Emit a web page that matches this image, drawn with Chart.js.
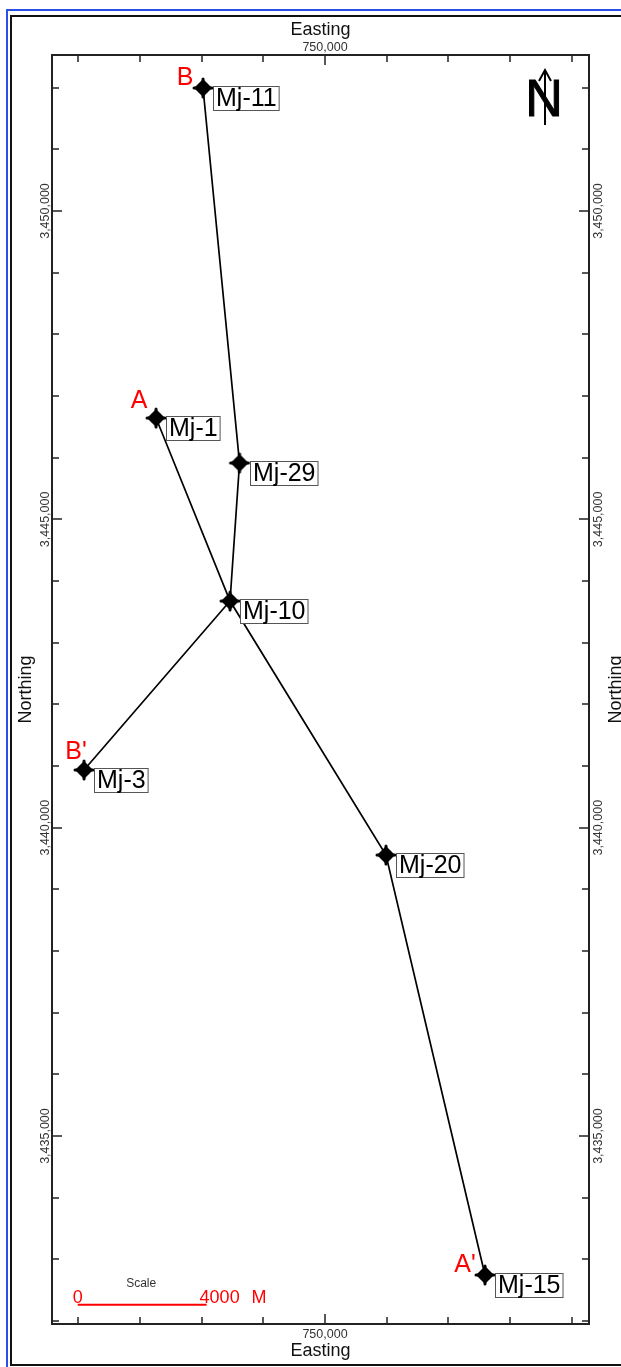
<!DOCTYPE html>
<html>
<head>
<meta charset="utf-8">
<title>Well location map</title>
<script src="https://cdn.jsdelivr.net/npm/chart.js@4"></script>
<style>
    html, body { margin: 0; padding: 0; background: #fff; overflow: hidden; }
    #page { position: relative; width: 621px; height: 1367px; overflow: hidden; }
    #blueFrame { position: absolute; left: 6px; top: 9px; width: 700px; height: 1400px; border: 2px solid #2b50e8; }
    #blackFrame { position: absolute; left: 10px; top: 15px; width: 700px; height: 1347px; border: 2px solid #111; }
    canvas { position: absolute; left: 0; top: 0; }
</style>
</head>
<body>
<div id="page">
    <div id="blueFrame"></div>
    <div id="blackFrame"></div>
    <canvas id="wellMap" width="621" height="1367"></canvas>
</div>
<script>
// Well data (metres)
const wellNames     = ['Mj-11', 'Mj-29', 'Mj-1', 'Mj-10', 'Mj-3', 'Mj-20', 'Mj-15'];
const wellEastings  = [748022, 748614, 747260, 748460, 746092, 750989, 752594];
const wellNorthings = [3451995, 3445914, 3446643, 3443676, 3440936, 3439557, 3432747];

// Cross sections, as well order
const sectionA = ['Mj-1', 'Mj-10', 'Mj-20', 'Mj-15'];
const sectionB = ['Mj-11', 'Mj-29', 'Mj-10', 'Mj-3'];

// Section end letters
const endLabels = ['A', "A'", 'B', "B'"];
const endWells  = ['Mj-1', 'Mj-15', 'Mj-11', 'Mj-3'];

// Scale bar
const scaleEastings  = [745990, 748080];
const scaleNorthings = [3432265, 3432265];
const scaleLabels    = ['0', '4000', 'M'];

// Axis ranges and ticks
const eastRange  = [745573, 754281];
const northRange = [3431952, 3452530];
const eastTicks  = [746000, 747000, 748000, 749000, 750000, 751000, 752000, 753000, 754000];
const northTicks = [3432000, 3433000, 3434000, 3435000, 3436000, 3437000, 3438000,
                    3439000, 3440000, 3441000, 3442000, 3443000, 3444000, 3445000,
                    3446000, 3447000, 3448000, 3449000, 3450000, 3451000, 3452000];
const labelStep  = 5000;

// offsets of the end letters from their well marker
const endOffsets = { 'A': [-17, -18], "A'": [-20, -11], 'B': [-18, -11], "B'": [-8, -19] };

function wellPoint(name) {
    const i = wellNames.indexOf(name);
    return { x: wellEastings[i], y: wellNorthings[i] };
}

function majorLabel(value) {
    return value % labelStep === 0 ? value.toLocaleString('en-US') : '';
}

// four pointed marker used for the wells
function makeWellMarker() {
    const c = document.createElement('canvas');
    c.width = 24;
    c.height = 24;
    const g = c.getContext('2d');
    const m = 12, r = 9;
    g.fillStyle = '#000';
    g.strokeStyle = '#000';
    g.beginPath();
    g.arc(m, m, 6, 0, Math.PI * 2);
    g.fill();
    // diamond body
    g.beginPath();
    g.moveTo(m, m - 9);
    g.lineTo(m + 9, m);
    g.lineTo(m, m + 9);
    g.lineTo(m - 9, m);
    g.closePath();
    g.fill();
    g.lineWidth = 3;
    g.lineCap = 'round';
    g.beginPath();
    g.moveTo(m, m - r);
    g.lineTo(m, m + r);
    g.moveTo(m - r, m);
    g.lineTo(m + r, m);
    g.stroke();
    return c;
}

// Chart.js only draws ticks outward and one length per scale, so draw them here
const inwardTicks = {
    id: 'inwardTicks',
    afterDatasetsDraw(chart) {
        const { ctx, chartArea, scales } = chart;
        ctx.save();
        ctx.strokeStyle = '#222';
        ctx.lineWidth = 1.5;
        ctx.beginPath();
        ['x', 'xTop'].forEach(id => {
            const scale = scales[id];
            const edge  = id === 'x' ? chartArea.bottom : chartArea.top;
            const dir   = id === 'x' ? -1 : 1;
            scale.ticks.forEach(t => {
                const len = t.value % labelStep === 0 ? 10 : 7;
                const px  = Math.round(scale.getPixelForValue(t.value));
                ctx.moveTo(px, edge);
                ctx.lineTo(px, edge + dir * len);
            });
        });
        ['y', 'yRight'].forEach(id => {
            const scale = scales[id];
            const edge  = id === 'y' ? chartArea.left : chartArea.right;
            const dir   = id === 'y' ? 1 : -1;
            scale.ticks.forEach(t => {
                const len = t.value % labelStep === 0 ? 10 : 7;
                const py  = Math.round(scale.getPixelForValue(t.value));
                ctx.moveTo(edge, py);
                ctx.lineTo(edge + dir * len, py);
            });
        });
        ctx.stroke();
        ctx.restore();
    }
};

// Well name boxes, section letters, scale text, north arrow
const mapAnnotations = {
    id: 'mapAnnotations',
    afterDatasetsDraw(chart) {
        const { ctx, scales } = chart;
        const xs = scales.x, ys = scales.y;
        ctx.save();

        // well names
        ctx.font = '25px "Liberation Sans", Arial, sans-serif';
        ctx.textBaseline = 'middle';
        ctx.textAlign = 'left';
        wellNames.forEach((name, i) => {
            const px = xs.getPixelForValue(wellEastings[i]);
            const py = ys.getPixelForValue(wellNorthings[i]);
            const w  = ctx.measureText(name).width + 5;
            const bx = Math.round(px + 10) + 0.5, by = Math.round(py - 2) + 0.5;
            ctx.fillStyle = '#fff';
            ctx.strokeStyle = '#555';
            ctx.lineWidth = 1;
            ctx.fillRect(bx, by, w, 24);
            ctx.strokeRect(bx, by, w, 24);
            ctx.fillStyle = '#000';
            ctx.fillText(name, bx + 2.5, by + 13);
        });

        // section letters
        ctx.fillStyle = '#ff0000';
        ctx.textBaseline = 'alphabetic';
        endLabels.forEach((label, i) => {
            const p = wellPoint(endWells[i]);
            const off = endOffsets[label];
            ctx.textAlign = 'center';
            ctx.fillText(label, xs.getPixelForValue(p.x) + off[0], ys.getPixelForValue(p.y) + off[1] + 8);
        });

        // scale bar text
        const barLeft  = xs.getPixelForValue(scaleEastings[0]);
        const barRight = xs.getPixelForValue(scaleEastings[1]);
        const barY     = ys.getPixelForValue(scaleNorthings[0]);
        ctx.font = '18px "Liberation Sans", Arial, sans-serif';
        ctx.textAlign = 'left';
        ctx.fillText(scaleLabels[0], barLeft - 5, barY - 2);
        ctx.fillText(scaleLabels[1], barRight - 7, barY - 2);
        ctx.fillText(scaleLabels[2], barRight + 45, barY - 2);
        ctx.fillStyle = '#333';
        ctx.font = '12px "Liberation Sans", Arial, sans-serif';
        ctx.textAlign = 'center';
        ctx.fillText('Scale', (barLeft + barRight) / 2 - 1, barY - 18);

        // right axis title reads upward too, the library would turn it the other way
        ctx.save();
        ctx.translate(616, (chart.chartArea.top + chart.chartArea.bottom) / 2);
        ctx.rotate(-Math.PI / 2);
        ctx.fillStyle = '#111';
        ctx.font = '18px "Liberation Sans", Arial, sans-serif';
        ctx.textBaseline = 'middle';
        ctx.fillText('Northing', 0, 0);
        ctx.restore();

        // north arrow
        ctx.fillStyle = '#000';
        ctx.strokeStyle = '#000';
        ctx.font = '52px "Liberation Sans", Arial, sans-serif';
        ctx.textAlign = 'center';
        ctx.textBaseline = 'alphabetic';
        ctx.lineWidth = 1;
        ctx.fillText('N', 544, 116);
        ctx.strokeText('N', 544, 116);
        ctx.lineWidth = 2;
        ctx.beginPath();
        ctx.moveTo(545, 125);
        ctx.lineTo(545, 70);
        ctx.moveTo(539, 81);
        ctx.lineTo(545, 70);
        ctx.lineTo(551, 81);
        ctx.stroke();

        ctx.restore();
    }
};

function baseAxis(range, tickValues, position, size, tickOpts) {
    return {
        type: 'linear',
        position: position,
        min: range[0],
        max: range[1],
        afterBuildTicks: scale => {
            scale.ticks = tickValues.map(v => ({ value: v }));
        },
        afterFit: scale => {
            if (scale.isHorizontal()) scale.height = size;
            else scale.width = size;
        },
        border: { display: true, color: '#222', width: 2 },
        grid: { display: false, drawTicks: false, drawOnChartArea: false },
        ticks: Object.assign({
            autoSkip: false,
            color: '#333',
            font: { family: '"Liberation Sans", Arial, sans-serif', size: 12.5 },
            callback: majorLabel
        }, tickOpts)
    };
}

function axisTitle(text, padding) {
    return {
        display: true,
        text: text,
        color: '#111',
        font: { family: '"Liberation Sans", Arial, sans-serif', size: 18 },
        padding: padding
    };
}

const xBottom = baseAxis(eastRange, eastTicks, 'bottom', 43, { padding: 3, minRotation: 0, maxRotation: 0 });
xBottom.title = axisTitle('Easting', { top: 0, bottom: 5 });
const xTop = baseAxis(eastRange, eastTicks, 'top', 55, { padding: 0, minRotation: 0, maxRotation: 0 });
xTop.title = axisTitle('Easting', { top: 19, bottom: 0 });
const yLeft = baseAxis(northRange, northTicks, 'left', 52, { padding: -21, minRotation: 90, maxRotation: 90, crossAlign: 'center' });
yLeft.title = axisTitle('Northing', { top: 15, bottom: 0 });
const yRight = baseAxis(northRange, northTicks, 'right', 32, { padding: -18, minRotation: 90, maxRotation: 90, crossAlign: 'center' });

new Chart(document.getElementById('wellMap'), {
    type: 'scatter',
    data: {
        datasets: [
            {
                label: 'Wells',
                data: wellNames.map(wellPoint),
                pointStyle: makeWellMarker(),
                pointRadius: 10,
                showLine: false,
                order: 0
            },
            {
                label: 'Section A',
                data: sectionA.map(wellPoint),
                showLine: true,
                borderColor: '#000',
                borderWidth: 1.7,
                pointRadius: 0,
                order: 1
            },
            {
                label: 'Section B',
                data: sectionB.map(wellPoint),
                showLine: true,
                borderColor: '#000',
                borderWidth: 1.7,
                pointRadius: 0,
                order: 1
            },
            {
                label: 'Scale',
                data: scaleEastings.map((x, i) => ({ x: x, y: scaleNorthings[i] })),
                showLine: true,
                borderColor: '#ff0000',
                borderWidth: 2,
                pointRadius: 0,
                order: 1
            }
        ]
    },
    options: {
        responsive: false,
        animation: false,
        layout: { padding: 0 },
        plugins: { legend: { display: false }, tooltip: { enabled: false } },
        scales: { x: xBottom, xTop: xTop, y: yLeft, yRight: yRight }
    },
    plugins: [inwardTicks, mapAnnotations]
});
</script>
</body>
</html>
